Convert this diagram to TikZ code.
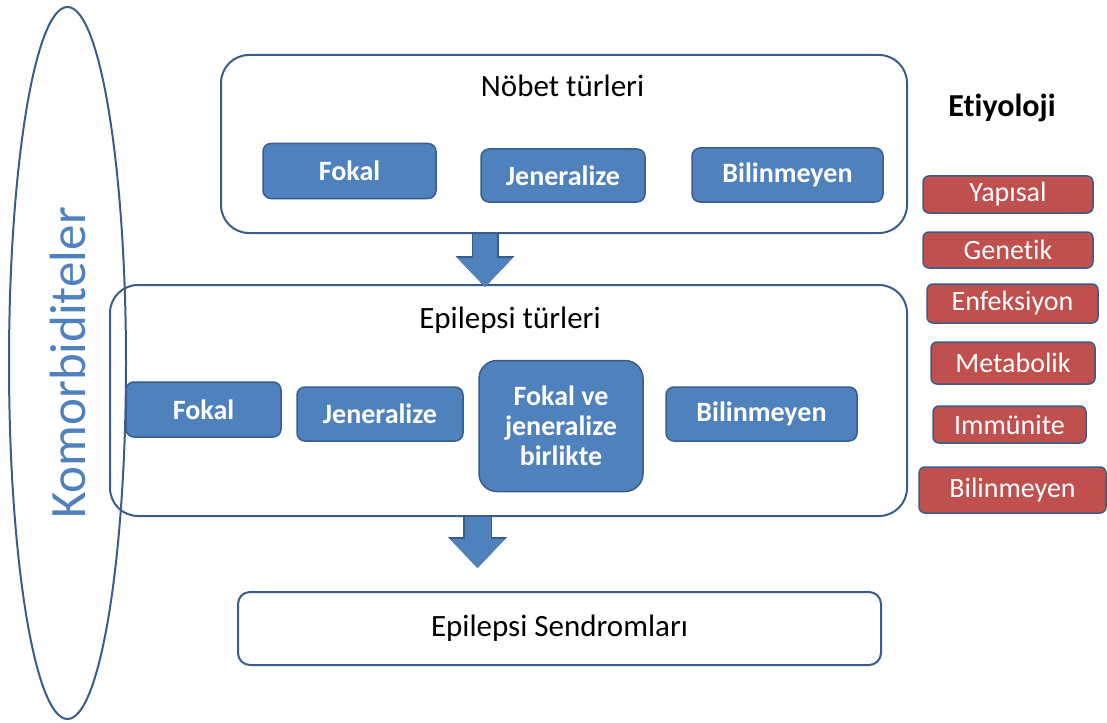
\documentclass[tikz,border=0pt]{standalone}
\usepackage{fontspec}
\setmainfont{Carlito}[Ligatures=NoCommon]
\usetikzlibrary{arrows.meta,shapes.geometric}
\definecolor{boxline}{HTML}{385D8A}
\definecolor{boxblue}{HTML}{4F81BD}
\definecolor{boxred}{HTML}{C0504D}
\tikzset{
  group/.style={draw=boxline, line width=2pt, rounded corners=28pt, inner sep=0pt},
  bluebox/.style={draw=boxline, fill=boxblue, line width=1.5pt, rounded corners=8pt, inner sep=0pt,
    text=white, align=center, font=\fontsize{28}{30}\selectfont\bfseries},
  redbox/.style={draw=boxline, fill=boxred, line width=1.5pt, rounded corners=6pt, inner sep=0pt,
    text=white, font=\fontsize{28}{30}\selectfont},
  title/.style={anchor=base, font=\fontsize{31}{36}\selectfont},
  fatarrow/.style 2 args={
    preaction={draw=boxline, line width=#2, -{Triangle[width=59pt,length=31pt,line width=0pt]}},
    draw=boxblue, line width=#1, -{Triangle[width=55pt,length=29pt,line width=0pt]}}
}
\begin{document}
\begin{tikzpicture}[x=1pt, y=-1pt]
  \useasboundingbox (0,0) rectangle (1107,722);
  \node [draw=boxline, line width=2pt, ellipse, rotate=90, minimum width=712pt, minimum height=117pt,
    text=boxblue, font=\fontsize{51}{60}\selectfont] (komor) at (67.5,363) {Komorbiditeler};
  \node [group, minimum width=686pt, minimum height=178pt] (nobet) at (564,144) {};
  \node [title] (nobettitle) at (562.5,97) {Nöbet türleri};
  \node [bluebox, minimum width=173pt, minimum height=55pt] (nfokal) at (349.5,171) {Fokal};
  \node [bluebox, minimum width=164pt, minimum height=53pt] (njen) at (563,175.5) {Jeneralize};
  \node [bluebox, minimum width=191pt, minimum height=54pt] (nbil) at (787.5,175) {Bilinmeyen};
  \node [group, minimum width=797pt, minimum height=231pt] (epi) at (508.5,400.5) {};
  \node [title] (epititle) at (510,328) {Epilepsi türleri};
  \node [bluebox, minimum width=155pt, minimum height=55pt] (efokal) at (203.5,409.5) {Fokal};
  \node [bluebox, minimum width=166pt, minimum height=54pt] (ejen) at (380,414) {Jeneralize};
  \node [bluebox, rounded corners=18pt, minimum width=164pt, minimum height=131pt] (eboth) at (561,426)
    {Fokal ve\\jeneralize\\birlikte};
  \node [bluebox, minimum width=191pt, minimum height=54pt] (ebil) at (761.5,414) {Bilinmeyen};
  \node [group, rounded corners=12pt, minimum width=643pt, minimum height=73pt,
    font=\fontsize{31}{36}\selectfont] (send) at (559.5,628.5) {Epilepsi Sendromları};
  \node [anchor=base, font=\fontsize{32}{38}\selectfont\bfseries] (etiyoloji) at (1002,117) {Etiyoloji};
  \node [redbox, minimum width=170pt, minimum height=37pt] (yapisal) at (1008,194.5) {Yapısal};
  \node [redbox, minimum width=170pt, minimum height=36pt] (genetik) at (1008,250) {Genetik};
  \node [redbox, minimum width=171pt, minimum height=39pt] (enfeksiyon) at (1012.5,303.5) {Enfeksiyon};
  \node [redbox, minimum width=164pt, minimum height=42pt] (metabolik) at (1013,363) {Metabolik};
  \node [redbox, minimum width=153pt, minimum height=37pt] (immunite) at (1009.5,424.5) {Immünite};
  \node [redbox, minimum width=187pt, minimum height=46pt] (ebilinmeyen) at (1012.5,490) {Bilinmeyen};
  \coordinate (tip1) at (485,287);
  \coordinate (tip2) at (477.5,568);
  \draw [fatarrow={24pt}{27pt}] (nobet.south -| tip1) -- (tip1);
  \draw [fatarrow={26pt}{29pt}] (epi.south -| tip2) -- (tip2);
\end{tikzpicture}
\end{document}
